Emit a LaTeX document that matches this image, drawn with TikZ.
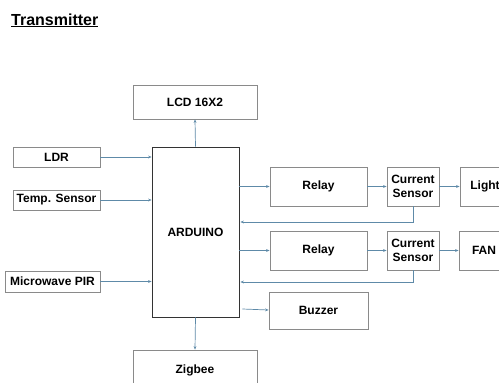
\documentclass[tikz,border=0pt]{standalone}
\usepackage{fontspec}
\setmainfont{Liberation Sans}
\usetikzlibrary{arrows.meta}
\definecolor{boxgray}{HTML}{8A8A8A}
\definecolor{arrblue}{HTML}{5E8AA8}
\begin{document}
\begin{tikzpicture}[x=1pt,y=-1pt,
  blk/.style={draw=boxgray, line width=0.8pt, inner sep=0pt, align=center,
    font=\fontsize{12}{13.5}\selectfont\bfseries},
  arr/.style={draw=arrblue, line width=0.7pt, -{Stealth[length=3.5pt,width=2.8pt]}}]
\useasboundingbox (0,0) rectangle (499,383);
\clip (0,0) rectangle (499,383);
\fill[white] (0,0) rectangle (499,383);
\node[anchor=base west, inner sep=0pt, font=\fontsize{16}{19}\selectfont\bfseries] (title) at (11,25) {\underline{Transmitter}};
\node[blk, minimum width=124pt, minimum height=34pt] (lcd) at (195,102) {LCD 16X2};
\node[blk, draw=black!80, minimum width=87pt, minimum height=170pt] (ard) at (195.5,232) {ARDUINO};
\node[blk, minimum width=87pt, minimum height=20pt] (ldr) at (56.5,157) {LDR};
\node[blk, minimum width=87pt, minimum height=20pt] (temp) at (56.5,200) {Temp. Sensor};
\node[blk, minimum width=95pt, minimum height=21pt] (pir) at (52.5,281.5) {Microwave PIR};
\node[blk, minimum width=97pt, minimum height=39pt] (relay1) at (318.5,186.5) {Relay};
\node[blk, minimum width=52pt, minimum height=39pt] (cs1) at (413,186.5) {Current\\Sensor};
\node[blk, minimum width=50pt, minimum height=39pt] (light) at (485,186.5) {Light};
\node[blk, minimum width=97pt, minimum height=39pt] (relay2) at (318.5,250.5) {Relay};
\node[blk, minimum width=52pt, minimum height=39pt] (cs2) at (413,250.5) {Current\\Sensor};
\node[blk, minimum width=50pt, minimum height=39pt] (fan) at (484,250.5) {FAN};
\node[blk, minimum width=99pt, minimum height=37pt] (buzzer) at (318.5,310.5) {Buzzer};
\node[blk, minimum width=124pt, minimum height=40pt] (zig) at (195,370) {Zigbee};
\coordinate (fb1) at (300,222);
\coordinate (fb2) at (300,282);
\draw[arr] (ard.north) -- (lcd.south);
\draw[arr] (ldr.east) -- (ard.west |- ldr.east);
\draw[arr] (temp.east) -- (ard.west |- temp.east);
\draw[arr] (pir.east) -- (ard.west |- pir.east);
\draw[arr] (ard.east |- relay1.west) -- (relay1.west);
\draw[arr] (relay1.east) -- (cs1.west);
\draw[arr] (cs1.east) -- (light.west);
\draw[arr] (cs1.south) |- ([xshift=1pt]ard.east |- fb1);
\draw[arr] (ard.east |- relay2.west) -- (relay2.west);
\draw[arr] (relay2.east) -- (cs2.west);
\draw[arr] (cs2.east) -- (fan.west);
\draw[arr] (cs2.south) |- ([xshift=1pt]ard.east |- fb2);
\draw[arr] ([xshift=3pt]ard.east |- 0,309) -- (buzzer.west |- 0,310);
\draw[arr] (ard.south) -- (zig.north);
\end{tikzpicture}
\end{document}
